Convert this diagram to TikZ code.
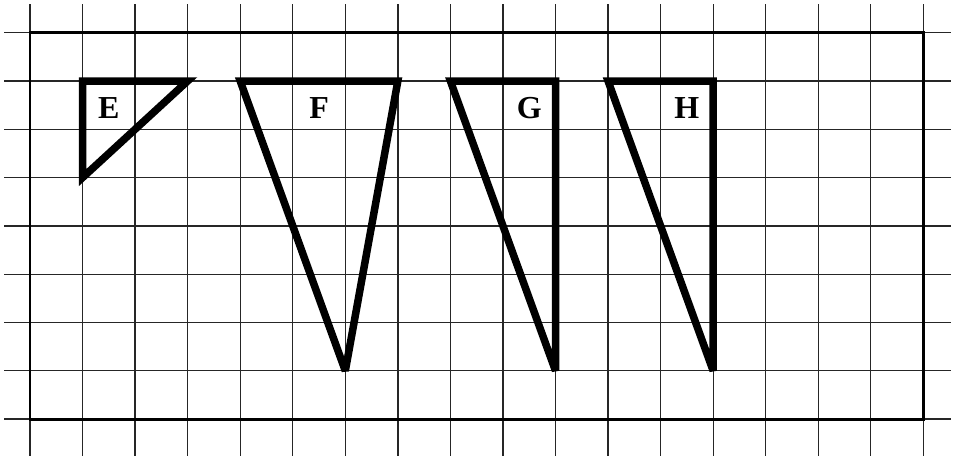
\documentclass[tikz,border=0pt]{standalone}
\usepackage{fontspec}
\setmainfont{Liberation Serif}
\begin{document}
\begin{tikzpicture}[x=1pt,y=-1pt,
  gridline/.style={line width=1.3pt,black!85},
  frame/.style={line width=2.6pt},
  tri/.style={line width=7.5pt,line join=miter,miter limit=3},
  lab/.style={font=\fontsize{32}{36}\selectfont\bfseries,inner sep=0pt,anchor=base}]
\useasboundingbox (0,0) rectangle (959,456);
\foreach \k in {0,...,17} \draw[gridline] ({30+52.55*\k},4) -- ({30+52.55*\k},456);
\foreach \k in {0,...,8} \draw[gridline] (4,{32.7+48.3*\k}) -- (951,{32.7+48.3*\k});
\draw[frame] (30,32.7) rectangle (923.3,419.3);
\begin{scope}[shift={(30,32.7)},x=52.55pt,y=-48.3pt]
  \coordinate (e1) at (1,1); \coordinate (e2) at (3,1); \coordinate (e3) at (1,3);
  \coordinate (f1) at (4,1); \coordinate (f2) at (7,1); \coordinate (f3) at (6,7);
  \coordinate (g1) at (8,1); \coordinate (g2) at (10,1); \coordinate (g3) at (10,7);
  \coordinate (h1) at (11,1); \coordinate (h2) at (13,1); \coordinate (h3) at (13,7);
  \draw[tri] (e1) -- (e2) -- (e3) -- cycle;
  \draw[tri] (f1) -- (f2) -- (f3) -- cycle;
  \draw[tri] (g1) -- (g2) -- (g3) -- cycle;
  \draw[tri] (h1) -- (h2) -- (h3) -- cycle;
  \node[lab] (le) at (1.5,1.77) {E};
  \node[lab] (lf) at (5.5,1.77) {F};
  \node[lab] (lg) at (9.5,1.77) {G};
  \node[lab] (lh) at (12.5,1.77) {H};
\end{scope}
\end{tikzpicture}
\end{document}
